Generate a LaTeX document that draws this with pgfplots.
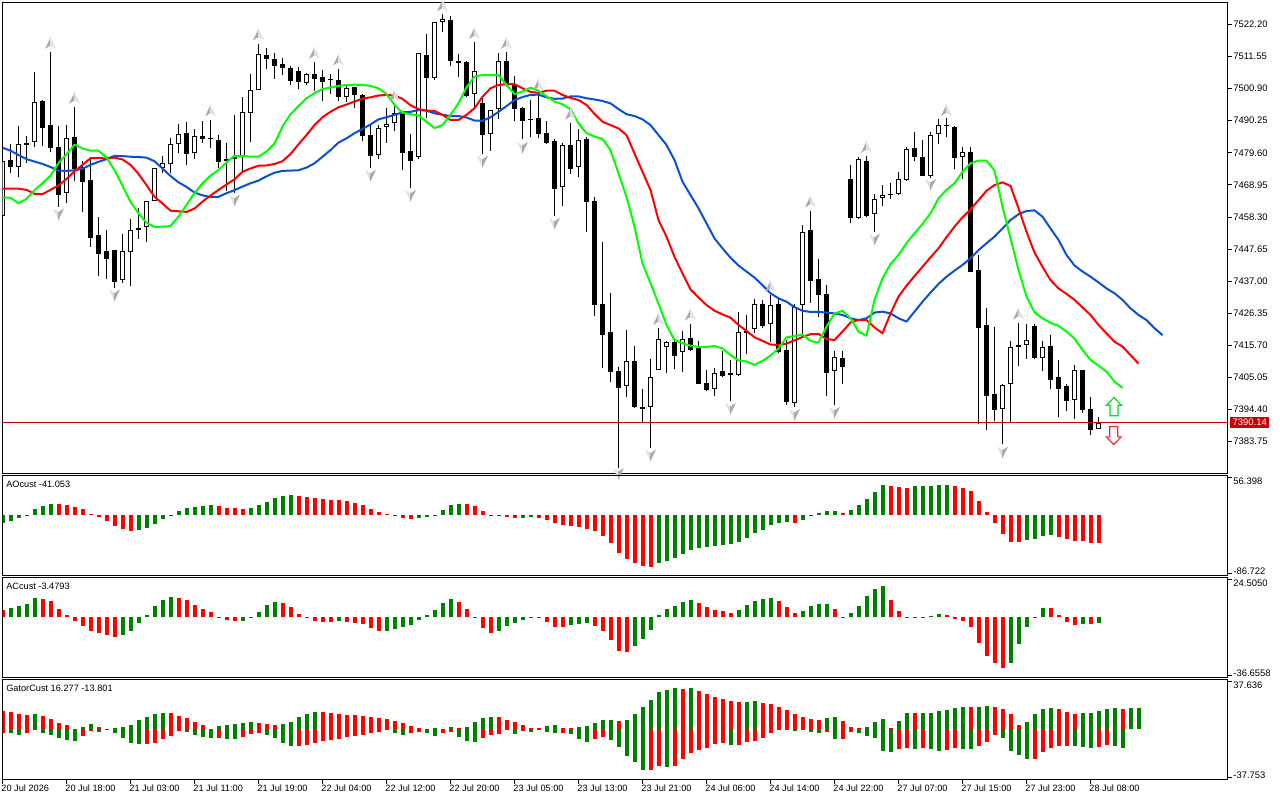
\documentclass[border=0pt]{standalone}
\usepackage{pgfplots}
\usepackage{pgfplotstable}
\usepackage{fontspec}
\setmainfont{Liberation Sans}
\pgfplotsset{compat=1.18}
\definecolor{mtgreen}{HTML}{008000}
\definecolor{mtred}{HTML}{FF0000}
\definecolor{lime}{HTML}{00FF00}
\definecolor{mtblue}{HTML}{0A50D2}
\definecolor{pricered}{HTML}{CC0000}
\definecolor{fdark}{HTML}{B0A8A4}
\definecolor{flight}{HTML}{DDE0EA}
\newcommand{\lab}{\fontsize{7.1pt}{8.5pt}\selectfont}
\newcommand{\labt}{\fontsize{6.9pt}{8.5pt}\selectfont}
\pgfdeclareplotmark{fup}{%
  \fill[fdark] (0pt,3.9pt)--(-3.6pt,-3.5pt)--(0pt,-1.3pt)--cycle;
  \fill[flight] (0pt,3.9pt)--(3.6pt,-3.5pt)--(0pt,-1.3pt)--cycle;}
\pgfdeclareplotmark{fdn}{%
  \fill[flight] (0pt,-3.9pt)--(-3.6pt,3.5pt)--(0pt,1.3pt)--cycle;
  \fill[fdark] (0pt,-3.9pt)--(3.6pt,3.5pt)--(0pt,1.3pt)--cycle;}
\pgfdeclareplotmark{bigup}{%
  \path[draw=lime!75!teal,fill=white,line width=.9pt,line join=miter]
  (0pt,6.8pt)--(5.6pt,1pt)--(3pt,1pt)--(3pt,-6.8pt)--(-3pt,-6.8pt)--(-3pt,1pt)--(-5.6pt,1pt)--cycle;}
\pgfdeclareplotmark{bigdn}{%
  \path[draw=mtred!85!white,fill=white,line width=.9pt,line join=miter]
  (0pt,-6.8pt)--(5.6pt,-1pt)--(3pt,-1pt)--(3pt,6.8pt)--(-3pt,6.8pt)--(-3pt,-1pt)--(-5.6pt,-1pt)--cycle;}
\pgfplotsset{
  paneaxis/.style={
    scale only axis, width=918.75pt, xmin=0, xmax=153.125,
    axis line style={line width=.75pt,black},
    tick style={line width=.75pt,black},
    major tick length=3.2pt, tick align=outside,
    xtick pos=bottom, ytick pos=right, yticklabel pos=right,
    every tick label/.append style={font=\lab},
    yticklabel style={anchor=west,inner sep=0pt,xshift=1pt},
    scaled y ticks=false,
  },
  bar/.style={ycomb,line width=3pt,mark=none,forget plot},
}
\pgfplotstableread{
i o h l c
0 7458.7 7476.8 7458.7 7476.8
1 7477.2 7482.5 7473.0 7475.0
2 7475.0 7488.5 7471.7 7482.4
3 7482.7 7485.2 7476.1 7482.3
4 7483.1 7506.4 7481.6 7496.4
5 7496.8 7497.1 7482.0 7487.9
6 7488.7 7513.2 7480.0 7481.3
7 7481.5 7488.5 7461.7 7465.7
8 7466.2 7488.7 7463.1 7484.4
9 7484.7 7494.7 7470.2 7474.2
10 7475.0 7476.8 7460.1 7470.0
11 7470.5 7478.3 7448.5 7451.4
12 7452.2 7458.2 7438.8 7446.1
13 7446.9 7454.0 7437.6 7444.5
14 7447.2 7447.3 7434.9 7436.8
15 7437.3 7452.7 7436.5 7446.9
16 7446.6 7457.5 7435.5 7453.9
17 7454.5 7461.2 7451.1 7454.1
18 7454.9 7463.5 7450.1 7463.5
19 7463.5 7474.4 7463.5 7474.4
20 7474.7 7478.5 7472.8 7476.1
21 7475.8 7484.4 7472.8 7482.4
22 7482.4 7489.2 7479.6 7485.7
23 7486.1 7489.8 7475.7 7479.3
24 7479.4 7487.4 7477.7 7485.1
25 7485.1 7490.2 7483.0 7484.3
26 7484.5 7490.5 7481.3 7484.1
27 7483.7 7485.5 7474.7 7476.7
28 7477.4 7482.7 7467.0 7477.0
29 7478.1 7492.0 7466.4 7477.7
30 7478.3 7498.1 7473.2 7493.0
31 7492.7 7505.7 7483.3 7500.3
32 7500.3 7515.6 7500.3 7512.3
33 7511.9 7514.4 7507.3 7510.8
34 7510.6 7512.6 7504.2 7508.5
35 7508.9 7511.1 7505.5 7507.8
36 7507.6 7508.4 7502.2 7503.5
37 7506.6 7508.2 7500.9 7503.2
38 7502.9 7506.1 7502.2 7505.6
39 7505.6 7509.6 7500.2 7504.2
40 7504.6 7507.1 7496.9 7503.2
41 7504.0 7505.6 7499.0 7503.6
42 7503.6 7507.3 7496.9 7498.0
43 7498.0 7501.8 7496.6 7501.0
44 7501.3 7501.5 7494.6 7498.9
45 7498.7 7499.0 7483.6 7485.3
46 7485.4 7488.8 7474.7 7478.6
47 7479.0 7488.8 7477.4 7487.7
48 7488.0 7494.4 7483.0 7489.0
49 7489.4 7495.1 7486.9 7492.7
50 7492.7 7493.2 7473.9 7479.6
51 7480.1 7485.7 7468.0 7477.0
52 7478.3 7512.6 7477.7 7512.6
53 7512.0 7519.0 7491.0 7504.5
54 7504.5 7522.9 7503.8 7522.9
55 7522.9 7525.7 7519.8 7523.9
56 7523.7 7525.0 7508.5 7510.2
57 7510.0 7512.4 7504.9 7509.5
58 7509.7 7510.0 7498.2 7498.4
59 7499.2 7516.4 7494.9 7506.6
60 7496.0 7498.2 7479.2 7485.6
61 7485.7 7493.7 7480.2 7493.7
62 7494.2 7512.6 7490.9 7510.0
63 7510.0 7513.0 7501.5 7502.2
64 7502.2 7505.1 7490.3 7494.2
65 7494.5 7494.7 7484.1 7490.3
66 7490.7 7497.1 7484.7 7490.4
67 7491.0 7499.3 7484.6 7486.0
68 7486.1 7490.0 7482.5 7482.9
69 7483.4 7484.1 7458.6 7467.7
70 7468.1 7482.7 7462.0 7482.1
71 7482.1 7489.4 7472.7 7474.3
72 7475.0 7487.4 7471.7 7483.7
73 7484.1 7484.9 7453.4 7463.4
74 7463.5 7464.8 7425.6 7429.2
75 7429.3 7449.9 7408.3 7419.3
76 7420.0 7433.0 7403.6 7407.0
77 7407.1 7408.4 7375.1 7401.7
78 7402.1 7420.7 7398.7 7410.4
79 7410.4 7415.5 7395.0 7395.4
80 7395.2 7401.2 7390.0 7394.7
81 7395.4 7411.1 7381.8 7405.3
82 7407.4 7421.4 7407.4 7417.9
83 7415.1 7417.3 7406.6 7416.9
84 7416.7 7417.7 7408.0 7412.3
85 7413.4 7420.4 7407.0 7417.9
86 7418.0 7422.8 7414.0 7414.3
87 7414.7 7417.0 7402.9 7403.0
88 7403.1 7407.5 7400.6 7401.0
89 7401.1 7408.1 7399.0 7406.6
90 7407.1 7414.0 7405.3 7405.6
91 7406.4 7410.9 7397.4 7406.0
92 7406.0 7426.7 7405.7 7420.0
93 7420.6 7425.7 7412.8 7419.7
94 7421.0 7431.0 7419.7 7429.6
95 7429.6 7430.8 7421.5 7422.1
96 7422.7 7432.3 7416.8 7429.0
97 7429.3 7431.3 7413.1 7413.5
98 7414.2 7417.5 7396.0 7397.0
99 7396.7 7429.3 7395.4 7428.3
100 7429.0 7455.5 7418.6 7453.2
101 7453.9 7460.3 7429.9 7437.2
102 7437.6 7444.3 7425.0 7432.4
103 7432.6 7435.6 7399.0 7406.6
104 7407.3 7413.7 7395.9 7411.7
105 7411.4 7413.7 7402.9 7408.6
106 7470.8 7475.6 7456.4 7458.1
107 7457.9 7478.3 7457.6 7477.4
108 7476.8 7478.5 7458.4 7458.6
109 7459.2 7465.9 7453.4 7464.4
110 7464.7 7468.9 7462.0 7465.7
111 7465.9 7469.5 7464.2 7465.6
112 7466.0 7473.2 7465.5 7470.8
113 7470.6 7481.4 7470.4 7480.7
114 7481.1 7486.5 7477.0 7478.3
115 7478.1 7483.8 7471.9 7472.0
116 7472.0 7486.4 7471.4 7485.4
117 7485.7 7490.7 7482.6 7488.7
118 7488.7 7491.0 7484.7 7488.4
119 7488.0 7488.5 7474.2 7478.0
120 7478.3 7481.4 7470.9 7479.8
121 7479.8 7481.4 7440.1 7440.2
122 7440.6 7445.7 7389.7 7421.6
123 7422.4 7428.1 7387.7 7399.0
124 7399.5 7421.7 7390.7 7394.4
125 7394.7 7402.9 7382.9 7402.4
126 7403.0 7417.2 7390.2 7415.1
127 7415.7 7423.0 7409.0 7415.3
128 7415.9 7422.8 7411.3 7417.6
129 7422.1 7422.8 7411.1 7411.4
130 7411.6 7417.2 7407.3 7415.1
131 7415.4 7419.0 7401.2 7404.3
132 7405.1 7410.9 7392.1 7401.4
133 7402.2 7402.8 7393.9 7397.4
134 7397.7 7409.1 7391.4 7407.4
135 7407.4 7407.4 7393.4 7394.3
136 7394.5 7398.5 7386.1 7387.7
137 7388.0 7392.0 7388.0 7390.0
}\candles
\pgfplotstableread{
i ao aoc ac acc
0 -11.4 1 4.3 0
1 -8.6 1 5.5 1
2 -4.3 1 6.7 1
3 -1.0 1 8.0 1
4 8.6 1 11.6 1
5 12.9 1 11.0 0
6 15.7 1 9.8 0
7 15.7 0 4.9 0
8 14.3 0 1.2 0
9 11.4 0 -2.4 0
10 8.6 0 -5.5 0
11 1.0 0 -8.6 0
12 -2.9 0 -9.8 0
13 -8.6 0 -11.0 0
14 -15.7 0 -12.2 0
15 -20.0 0 -11.0 1
16 -22.9 0 -8.6 1
17 -21.5 1 -3.7 1
18 -18.6 1 1.2 1
19 -12.9 1 6.7 1
20 -5.7 1 10.4 1
21 -1.0 1 12.2 1
22 5.7 1 11.6 0
23 10.0 1 10.4 0
24 11.4 1 7.3 0
25 12.9 1 4.9 0
26 14.3 1 3.1 0
27 12.9 0 -0.4 0
28 10.0 0 -1.8 0
29 10.0 0 -2.4 0
30 8.6 0 -2.4 1
31 10.0 1 -0.4 1
32 14.3 1 3.1 1
33 18.6 1 7.3 1
34 24.3 1 9.2 1
35 27.2 1 8.6 0
36 28.6 1 6.1 0
37 27.2 0 1.8 0
38 25.8 0 -0.4 0
39 24.3 0 -2.4 0
40 22.9 0 -3.1 0
41 21.5 0 -3.1 0
42 21.5 0 -2.4 1
43 20.0 0 -3.1 0
44 17.2 0 -3.7 0
45 14.3 0 -4.3 0
46 8.6 0 -6.7 0
47 4.3 0 -8.6 0
48 1.0 0 -8.6 1
49 -1.0 0 -7.3 1
50 -4.3 0 -6.1 1
51 -5.7 0 -4.9 1
52 -4.3 1 -1.8 1
53 -2.9 1 1.2 1
54 -0.5 1 4.3 1
55 7.2 1 8.6 1
56 14.3 1 11.0 1
57 15.7 1 9.2 0
58 15.7 0 4.9 0
59 12.9 0 -0.4 0
60 5.7 0 -6.7 0
61 -0.5 0 -9.8 0
62 -1.0 0 -8.6 1
63 -2.9 0 -5.5 1
64 -4.3 0 -3.7 1
65 -4.3 1 -1.8 1
66 -2.9 1 -0.2 1
67 -4.3 0 -0.2 0
68 -7.2 0 -3.1 0
69 -11.4 0 -6.1 0
70 -14.3 0 -6.1 0
71 -15.7 0 -4.9 1
72 -17.2 0 -4.3 1
73 -20.0 0 -3.7 1
74 -22.9 0 -5.5 0
75 -30.1 0 -8.6 0
76 -40.1 0 -14.1 0
77 -54.4 0 -20.8 0
78 -63.0 0 -21.4 0
79 -68.7 0 -17.7 1
80 -73.0 0 -13.5 1
81 -74.4 0 -8.0 1
82 -68.7 1 1.2 1
83 -65.8 1 4.9 1
84 -61.5 1 6.7 1
85 -55.8 1 9.2 1
86 -50.1 1 10.4 1
87 -47.7 1 8.6 0
88 -45.8 1 6.1 0
89 -44.4 1 4.3 0
90 -42.9 1 3.7 0
91 -41.5 1 2.4 0
92 -38.6 1 4.3 1
93 -32.9 1 7.3 1
94 -25.8 1 9.8 1
95 -21.5 1 11.0 1
96 -14.3 1 11.6 1
97 -11.4 1 9.8 0
98 -10.0 1 6.1 0
99 -11.4 0 2.4 0
100 -7.2 1 3.7 1
101 -1.0 1 6.7 1
102 2.9 1 8.0 1
103 5.7 1 8.0 1
104 5.7 1 4.9 0
105 2.9 0 -0.4 0
106 7.2 1 2.4 1
107 14.3 1 6.7 1
108 22.9 1 12.8 1
109 32.9 1 17.1 1
110 42.9 1 19.0 1
111 41.5 0 10.4 0
112 40.1 0 3.7 0
113 38.6 0 -0.4 0
114 41.5 1 -0.2 1
115 41.5 1 -0.2 1
116 41.5 1 0.8 1
117 42.9 1 1.8 1
118 42.9 1 1.2 0
119 41.5 0 -1.2 0
120 38.6 0 -2.4 0
121 34.3 0 -6.1 0
122 20.0 0 -15.9 0
123 4.3 0 -23.9 0
124 -11.4 0 -28.1 0
125 -27.2 0 -31.2 0
126 -38.6 0 -28.1 1
127 -38.6 0 -16.5 1
128 -36.3 1 -6.1 1
129 -34.3 1 0.4 1
130 -30.1 1 5.5 1
131 -28.6 1 5.5 0
132 -31.5 0 1.2 0
133 -34.3 0 -3.1 0
134 -37.2 0 -4.9 0
135 -37.2 0 -4.3 1
136 -40.1 0 -4.3 0
137 -41.053 0 -3.4793 1
}\osc
\pgfplotstableread{
i up uc lo lc
0 13.8 0 -2.8 0
1 13.1 0 -2.8 1
2 11.6 0 -4.3 1
3 10.8 0 -2.8 0
4 11.6 1 -0.5 0
5 10.1 0 -2.8 1
6 7.8 0 -4.3 1
7 4.8 0 -6.5 1
8 3.3 0 -8.0 1
9 0.3 0 -8.8 1
10 1.8 1 -5.0 0
11 4.0 1 -1.3 0
12 1.8 0 -2.0 1
13 0.3 0 -0.3 0
14 1.0 1 -2.8 1
15 1.8 1 -6.5 1
16 3.3 1 -10.3 1
17 7.0 1 -11.1 1
18 9.3 1 -11.1 0
19 11.6 1 -10.3 0
20 12.3 1 -7.3 0
21 12.3 0 -5.0 0
22 10.1 0 -1.3 0
23 8.5 0 -2.0 1
24 5.5 0 -4.3 1
25 3.3 0 -5.8 1
26 0.3 0 -6.5 1
27 2.5 1 -6.5 0
28 3.3 1 -7.3 1
29 4.0 1 -7.3 1
30 4.8 1 -5.8 0
31 5.5 1 -3.5 0
32 4.8 0 -2.8 0
33 4.0 0 -4.3 1
34 3.3 0 -6.5 1
35 4.0 1 -10.3 1
36 5.5 1 -12.6 1
37 9.3 1 -12.6 0
38 11.6 1 -11.8 0
39 13.1 1 -10.3 0
40 13.1 0 -8.8 0
41 12.3 0 -8.0 0
42 11.6 0 -7.3 0
43 10.8 0 -5.8 0
44 10.8 0 -5.0 0
45 10.1 0 -4.3 0
46 9.3 0 -2.8 0
47 8.5 0 -2.0 0
48 7.8 0 -0.5 0
49 6.3 0 -2.8 1
50 4.8 0 -4.3 1
51 2.5 0 -2.8 0
52 1.0 0 -2.0 0
53 0.3 1 -2.8 1
54 1.0 1 -5.0 1
55 0.1 0 -2.8 0
56 1.8 1 -2.0 0
57 1.0 0 -5.8 1
58 1.8 1 -8.8 1
59 5.5 1 -9.5 1
60 8.5 1 -6.5 0
61 9.3 1 -4.3 0
62 9.3 0 -3.5 0
63 7.0 0 -0.5 0
64 5.5 0 -3.5 1
65 3.3 0 -1.3 0
66 1.0 0 -2.0 1
67 1.0 0 -0.5 0
68 2.5 1 -2.0 1
69 3.3 1 -2.8 1
70 1.0 0 -2.8 0
71 1.0 0 -3.5 1
72 1.8 1 -7.3 1
73 2.5 1 -9.5 1
74 4.8 1 -7.3 0
75 7.0 1 -5.8 0
76 7.0 1 -8.0 1
77 6.3 0 -13.3 1
78 7.0 1 -20.1 1
79 11.6 1 -24.6 1
80 16.8 1 -30.7 1
81 22.1 1 -30.7 0
82 28.1 1 -27.6 0
83 29.7 1 -28.4 1
84 31.2 1 -27.6 0
85 30.4 0 -22.4 0
86 31.2 1 -17.8 0
87 28.9 0 -15.6 0
88 26.6 0 -14.1 0
89 24.4 0 -11.1 0
90 22.9 0 -10.3 0
91 21.4 0 -11.8 1
92 20.6 0 -11.8 0
93 20.6 1 -9.5 0
94 21.4 1 -8.8 0
95 19.9 0 -6.5 0
96 19.1 0 -2.8 0
97 16.8 0 -0.5 1
98 14.6 0 -0.5 1
99 11.6 0 -1.3 1
100 9.3 0 -0.5 0
101 7.8 0 -2.0 1
102 7.0 0 -2.8 1
103 8.5 1 -2.0 0
104 9.3 1 -7.3 1
105 6.3 0 -7.3 0
106 1.8 0 -2.0 0
107 1.0 0 -2.8 1
108 1.8 1 -5.0 1
109 5.5 1 -6.5 1
110 7.8 1 -16.3 1
111 1.0 0 -17.1 1
112 6.3 1 -14.8 0
113 12.3 1 -14.1 0
114 12.3 0 -14.8 1
115 12.3 1 -14.1 0
116 12.3 1 -14.8 1
117 13.8 1 -16.3 1
118 14.6 1 -15.6 0
119 16.1 1 -14.1 0
120 16.8 1 -14.8 1
121 16.8 0 -14.8 1
122 16.8 1 -12.6 0
123 17.6 1 -9.5 0
124 16.8 0 -4.3 0
125 15.3 0 -6.5 1
126 11.6 0 -16.3 1
127 3.3 0 -19.3 1
128 5.5 1 -22.4 1
129 11.6 1 -22.4 0
130 15.3 1 -17.1 0
131 16.1 1 -14.1 0
132 15.3 0 -12.6 0
133 13.1 0 -12.6 0
134 11.6 0 -12.6 1
135 12.3 1 -13.3 1
136 12.3 1 -14.1 1
137 13.8 1 -13.3 0
138 15.3 1 -11.8 0
139 16.1 1 -12.6 1
140 15.3 0 -13.801 1
141 16.1 1 0 1
142 16.277 1 0 1
}\gator
\begin{document}
\begin{tikzpicture}
\useasboundingbox (0pt,0pt) rectangle (960pt,600pt);
% ---------- main pane
\begin{axis}[paneaxis,at={(1.875pt,244.875pt)},anchor=south west,height=353.25pt,
  y coord trafo/.code={\pgfmathparse{#1-7373}},
  y coord inv trafo/.code={\pgfmathparse{#1+7373}},
  ymin=7373.2,ymax=7529.47,xtick=\empty,
  ytick={7522.20,7511.55,7500.90,7490.25,7479.60,7468.95,7458.30,7447.65,7437.00,7426.35,7415.70,7405.05,7394.40,7383.75},
  yticklabels={7522.20,7511.55,7500.90,7490.25,7479.60,7468.95,7458.30,7447.65,7437.00,7426.35,7415.70,7405.05,7394.40,7383.75}]
% wicks
\addplot[black,line width=.75pt,forget plot,quiver={u=0,v=\thisrow{h}-\thisrow{l}}]
  table[x=i,y=l]{\candles};
% bodies
\addplot[black,line width=3.75pt,forget plot,quiver={u=0,v={abs(\thisrow{c}-\thisrow{o})}}]
  table[x=i,y expr={min(\thisrow{o},\thisrow{c})}]{\candles};
% hollow interiors
\addplot[white,line width=2.25pt,forget plot,x filter/.expression={\thisrow{c}>\thisrow{o} ? x : nan},
  quiver={u=0,v=\thisrow{c}-\thisrow{o}-0.66}]
  table[x=i,y expr={\thisrow{o}+0.33}]{\candles};
% price line
\addplot[pricered,line width=.75pt,forget plot] coordinates {(0,7390.14)(153.125,7390.14)};
% blue
\addplot[mtblue,line width=1.5pt,line join=round,forget plot] coordinates {
(0,7481.3)(1,7480.3)(2,7478.9)(3,7477.5)(4,7476.7)(5,7475.9)(6,7474.9)(7,7473.7)(8,7473.6)(9,7473.8)
(10,7474.3)(11,7475.6)(12,7476.6)(13,7477.5)(14,7478.6)(15,7478.5)(16,7478.3)(17,7478.2)(18,7478.0)(19,7476.8)
(20,7474.4)(21,7471.9)(22,7469.8)(23,7468.3)(24,7466.4)(25,7465.5)(26,7464.9)(27,7465.0)(28,7466.2)(29,7467.2)
(30,7468.4)(31,7469.5)(32,7470.4)(33,7471.8)(34,7473.0)(35,7473.6)(36,7473.7)(37,7473.8)(38,7474.7)(39,7476.1)
(40,7478.3)(41,7480.5)(42,7483.0)(43,7484.4)(44,7486.1)(45,7487.5)(46,7489.0)(47,7490.7)(48,7491.4)(49,7492.2)
(50,7493.0)(51,7493.2)(52,7493.8)(53,7493.6)(54,7492.7)(55,7492.2)(56,7491.8)(57,7491.8)(58,7491.3)(59,7490.3)
(60,7490.2)(61,7491.4)(62,7493.2)(63,7495.1)(64,7497.1)(65,7498.1)(66,7498.8)(67,7498.9)(68,7498.0)(69,7497.5)
(70,7497.6)(71,7498.3)(72,7498.3)(73,7497.7)(74,7497.3)(75,7496.8)(76,7496.0)(77,7494.1)(78,7492.4)(79,7491.8)
(80,7490.7)(81,7488.8)(82,7485.5)(83,7482.2)(84,7477.2)(85,7470.0)(86,7465.6)(87,7461.2)(88,7456.2)(89,7451.2)
(90,7447.9)(91,7444.8)(92,7442.2)(93,7440.2)(94,7438.2)(95,7435.7)(96,7433.0)(97,7431.3)(98,7430.2)(99,7428.4)
(100,7427.2)(101,7426.8)(102,7426.8)(103,7426.6)(104,7426.3)(105,7425.8)(106,7424.7)(107,7424.1)(108,7424.7)(109,7426.6)
(110,7426.9)(111,7426.3)(112,7424.7)(113,7423.6)(114,7426.9)(115,7430.2)(116,7433.2)(117,7436.1)(118,7438.5)(119,7440.5)
(120,7442.4)(121,7444.6)(122,7447.3)(123,7449.6)(124,7451.8)(125,7454.5)(126,7457.3)(127,7459.2)(128,7460.3)(129,7460.5)
(130,7458.4)(131,7454.5)(132,7450.7)(133,7445.7)(134,7442.2)(135,7440.2)(136,7438.5)(137,7436.6)(138,7434.6)(139,7433.0)
(140,7430.8)(141,7428.0)(142,7425.8)(143,7424.1)(144,7421.4)(145,7419.1)};
% red
\addplot[mtred,line width=1.5pt,line join=round,forget plot] coordinates {
(0,7467.7)(1,7467.7)(2,7467.7)(3,7467.3)(4,7466.0)(5,7465.9)(6,7467.3)(7,7468.8)(8,7470.9)(9,7473.5)
(10,7475.6)(11,7477.8)(12,7477.9)(13,7477.7)(14,7478.0)(15,7477.4)(16,7475.6)(17,7472.6)(18,7468.9)(19,7465.0)
(20,7462.8)(21,7460.4)(22,7460.2)(23,7460.0)(24,7461.1)(25,7463.4)(26,7465.4)(27,7467.3)(28,7469.1)(29,7470.8)
(30,7473.3)(31,7474.4)(32,7475.3)(33,7475.4)(34,7475.9)(35,7476.8)(36,7479.2)(37,7482.4)(38,7485.5)(39,7488.8)
(40,7491.4)(41,7493.2)(42,7494.7)(43,7495.6)(44,7496.6)(45,7497.6)(46,7498.0)(47,7498.6)(48,7498.8)(49,7498.6)
(50,7497.5)(51,7495.4)(52,7494.1)(53,7493.6)(54,7493.5)(55,7492.2)(56,7490.5)(57,7490.5)(58,7492.2)(59,7494.4)
(60,7498.2)(61,7501.0)(62,7502.1)(63,7502.4)(64,7502.4)(65,7501.0)(66,7499.8)(67,7499.5)(68,7500.2)(69,7500.2)
(70,7498.8)(71,7497.8)(72,7497.1)(73,7495.5)(74,7492.5)(75,7489.9)(76,7488.8)(77,7487.7)(78,7485.5)(79,7479.4)
(80,7473.3)(81,7467.3)(82,7457.3)(83,7451.8)(84,7445.1)(85,7439.6)(86,7434.3)(87,7431.6)(88,7429.1)(89,7427.2)
(90,7426.0)(91,7424.9)(92,7422.5)(93,7420.5)(94,7418.4)(95,7417.2)(96,7416.0)(97,7415.8)(98,7416.3)(99,7417.4)
(100,7418.5)(101,7419.4)(102,7419.5)(103,7417.8)(104,7417.5)(105,7420.3)(106,7423.3)(107,7424.1)(108,7424.1)(109,7421.7)
(110,7419.7)(111,7426.3)(112,7431.9)(113,7435.5)(114,7438.7)(115,7441.8)(116,7444.9)(117,7447.9)(118,7451.6)(119,7455.1)
(120,7458.2)(121,7460.8)(122,7463.9)(123,7467.0)(124,7468.9)(125,7469.8)(126,7468.6)(127,7461.2)(128,7453.4)(129,7446.5)
(130,7441.8)(131,7437.4)(132,7434.6)(133,7432.8)(134,7430.8)(135,7428.3)(136,7425.8)(137,7422.5)(138,7419.7)(139,7416.9)
(140,7415.3)(141,7412.5)(142,7409.7)};
% lime
\addplot[lime,line width=1.5pt,line join=round,forget plot] coordinates {
(0,7464.7)(1,7464.7)(2,7462.9)(3,7464.3)(4,7467.2)(5,7469.5)(6,7472.0)(7,7476.2)(8,7479.1)(9,7482.3)
(10,7481.1)(11,7480.3)(12,7480.3)(13,7478.1)(14,7473.9)(15,7468.7)(16,7463.4)(17,7459.5)(18,7456.4)(19,7455.0)
(20,7455.1)(21,7455.3)(22,7458.4)(23,7462.3)(24,7466.2)(25,7469.5)(26,7472.0)(27,7473.9)(28,7476.4)(29,7478.6)
(30,7478.6)(31,7478.3)(32,7478.3)(33,7480.0)(34,7482.7)(35,7488.3)(36,7492.4)(37,7495.1)(38,7497.7)(39,7499.4)
(40,7500.7)(41,7501.3)(42,7501.8)(43,7502.1)(44,7502.2)(45,7502.1)(46,7501.8)(47,7501.0)(48,7499.1)(49,7495.5)
(50,7492.9)(51,7492.4)(52,7492.0)(53,7489.9)(54,7487.8)(55,7488.8)(56,7492.2)(57,7496.0)(58,7501.3)(59,7504.9)
(60,7505.4)(61,7505.4)(62,7505.4)(63,7502.1)(64,7499.1)(65,7499.9)(66,7501.2)(67,7500.2)(68,7498.4)(69,7496.6)
(70,7495.7)(71,7494.1)(72,7489.4)(73,7486.1)(74,7485.0)(75,7484.2)(76,7480.5)(77,7472.8)(78,7465.0)(79,7455.1)
(80,7442.9)(81,7436.3)(82,7429.6)(83,7422.5)(84,7417.5)(85,7416.4)(86,7415.6)(87,7415.2)(88,7415.2)(89,7415.5)
(90,7414.7)(91,7412.5)(92,7410.7)(93,7410.4)(94,7409.2)(95,7410.6)(96,7412.3)(97,7414.7)(98,7418.4)(99,7418.8)
(100,7419.3)(101,7417.2)(102,7416.6)(103,7421.9)(104,7426.3)(105,7427.2)(106,7424.7)(107,7420.3)(108,7418.9)(109,7430.8)
(110,7438.0)(111,7442.7)(112,7445.7)(113,7449.6)(114,7452.9)(115,7456.0)(116,7459.5)(117,7464.5)(118,7467.3)(119,7469.5)
(120,7473.3)(121,7476.1)(122,7477.0)(123,7477.0)(124,7473.7)(125,7461.7)(126,7451.2)(127,7440.7)(128,7431.9)(129,7426.7)
(130,7424.7)(131,7423.2)(132,7422.2)(133,7420.3)(134,7418.0)(135,7414.2)(136,7410.9)(137,7409.0)(138,7407.0)(139,7403.7)
(140,7401.6)};
% fractals
\addplot[only marks,mark=fup,forget plot] coordinates {(6,7515.9)(9,7497.7)(26,7493.5)(32,7518.7)(39,7512.6)(42,7510.4)(49,7498.4)(55,7528.3)(59,7519.2)(63,7515.9)(67,7502.1)(71,7492.4)(82,7424.3)(86,7425.8)(96,7435.2)(101,7463.3)(108,7481.4)(118,7493.6)(127,7426.1)};
\addplot[only marks,mark=fdn,forget plot] coordinates {(7,7459.3)(14,7432.4)(29,7463.9)(46,7472.1)(51,7465.5)(60,7476.8)(65,7481.4)(69,7456.2)(77,7373.2)(81,7379.3)(91,7394.8)(99,7392.8)(104,7393.5)(109,7450.9)(116,7469.1)(125,7380.3)};
\addplot[only marks,mark=bigup,forget plot] coordinates {(138.94,7395.4)};
\addplot[only marks,mark=bigdn,forget plot] coordinates {(138.9,7385.8)};
\end{axis}
% ---------- AO pane
\begin{axis}[paneaxis,at={(1.875pt,168.5pt)},anchor=south west,height=75pt,
  ymin=-86.722,ymax=56.398,xtick=\empty,
  ytick={53.5},yticklabels={56.398},
  yticklabel style={yshift=-3pt},
  extra y ticks={-83.9},extra y tick labels={-86.722},
  extra y tick style={yticklabel style={yshift=4.5pt}}]
\addplot[bar,mtgreen,x filter/.expression={\thisrow{aoc}==1 ? x : nan}] table[x=i,y=ao]{\osc};
\addplot[bar,mtred,x filter/.expression={\thisrow{aoc}==0 ? x : nan}] table[x=i,y=ao]{\osc};
\end{axis}
% ---------- AC pane
\begin{axis}[paneaxis,at={(1.875pt,92pt)},anchor=south west,height=75pt,
  ymin=-36.6558,ymax=24.505,xtick=\empty,
  ytick={23.28},yticklabels={24.5050},
  yticklabel style={yshift=-3pt},
  extra y ticks={-35.43},extra y tick labels={-36.6558},
  extra y tick style={yticklabel style={yshift=4.5pt}}]
\addplot[bar,mtgreen,x filter/.expression={\thisrow{acc}==1 ? x : nan}] table[x=i,y=ac]{\osc};
\addplot[bar,mtred,x filter/.expression={\thisrow{acc}==0 ? x : nan}] table[x=i,y=ac]{\osc};
\end{axis}
% ---------- Gator pane
\begin{axis}[paneaxis,at={(1.875pt,15.5pt)},anchor=south west,height=75pt,
  ymin=-37.753,ymax=37.636,
  xtick={0,8,...,136},
  xticklabels={20 Jul 2026,20 Jul 18:00,21 Jul 03:00,21 Jul 11:00,21 Jul 19:00,22 Jul 04:00,22 Jul 12:00,22 Jul 20:00,23 Jul 05:00,23 Jul 13:00,23 Jul 21:00,24 Jul 06:00,24 Jul 14:00,24 Jul 22:00,27 Jul 07:00,27 Jul 15:00,27 Jul 23:00,28 Jul 08:00},
  xticklabel style={anchor=north west,inner sep=0pt,xshift=-1pt,yshift=-1pt,font=\labt},
  ytick={36.1},yticklabels={37.636},
  yticklabel style={yshift=-3pt},
  extra y ticks={-36.2},extra y tick labels={-37.753},
  extra y tick style={yticklabel style={yshift=4.5pt}}]
\addplot[bar,mtgreen,x filter/.expression={\thisrow{uc}==1 ? x : nan}] table[x=i,y=up]{\gator};
\addplot[bar,mtred,x filter/.expression={\thisrow{uc}==0 ? x : nan}] table[x=i,y=up]{\gator};
\addplot[bar,mtgreen,x filter/.expression={\thisrow{lc}==1 ? x : nan}] table[x=i,y=lo]{\gator};
\addplot[bar,mtred,x filter/.expression={\thisrow{lc}==0 ? x : nan}] table[x=i,y=lo]{\gator};
\end{axis}
% ---------- labels
\node[anchor=west,inner sep=0pt,font=\labt] at (4.5pt,237pt) {AOcust -41.053};
\node[anchor=west,inner sep=0pt,font=\labt] at (4.5pt,160.5pt) {ACcust -3.4793};
\node[anchor=west,inner sep=0pt,font=\labt] at (4.5pt,84pt) {GatorCust 16.277 -13.801};
\node[anchor=west,fill=pricered,text=white,inner sep=0pt,minimum width=29.25pt,minimum height=7.8pt,align=center,font=\lab] at (922.5pt,283.05pt) {7390.14};
\end{tikzpicture}
\end{document}
